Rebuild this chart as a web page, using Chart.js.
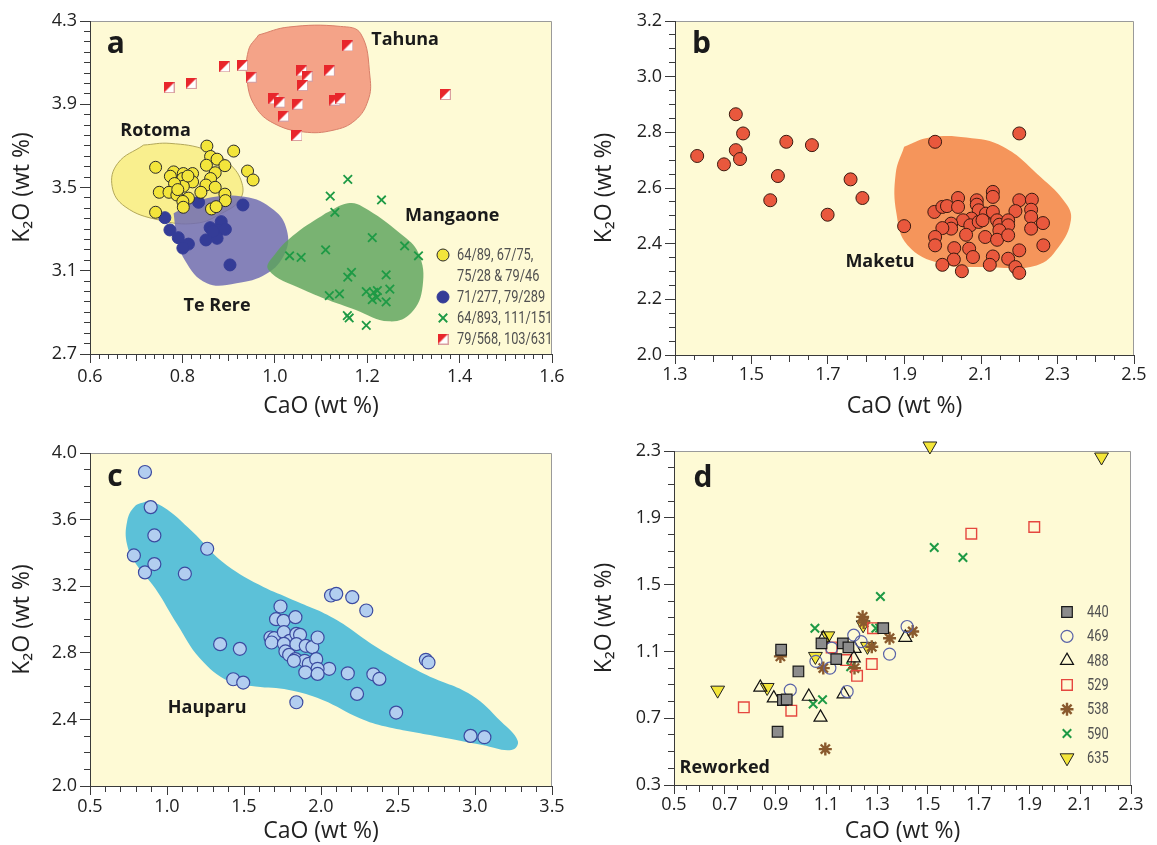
<!DOCTYPE html>
<html><head><meta charset="utf-8">
<script src="https://cdn.jsdelivr.net/npm/chart.js@4/dist/chart.umd.min.js"></script>
<style>
html,body{margin:0;padding:0;background:#fff;}
body{width:1157px;height:845px;position:relative;overflow:hidden;}
canvas{position:absolute;}
</style></head><body>
<canvas id="cA" width="580" height="420" style="left:0;top:0;width:580px;height:420px"></canvas>
<canvas id="cB" width="577" height="420" style="left:580px;top:0;width:577px;height:420px"></canvas>
<canvas id="cC" width="580" height="425" style="left:0;top:420px;width:580px;height:425px"></canvas>
<canvas id="cD" width="577" height="425" style="left:580px;top:420px;width:577px;height:425px"></canvas>
<script>
// ---------------- DATA ----------------
// Panel a
const aXTicks = [0.6, 0.8, 1.0, 1.2, 1.4, 1.6];
const aYTicks = [2.7, 3.1, 3.5, 3.9, 4.3];
const rotomaPts = [[0.853,3.699],[0.911,3.675],[0.861,3.649],[0.875,3.636],[0.742,3.597],[0.892,3.605],[0.852,3.607],[0.941,3.579],[0.953,3.536],[0.781,3.575],[0.802,3.567],[0.822,3.567],[0.774,3.554],[0.801,3.543],[0.822,3.527],[0.871,3.571],[0.861,3.543],[0.802,3.506],[0.783,3.519],[0.851,3.512],[0.871,3.501],[0.750,3.477],[0.771,3.477],[0.788,3.464],[0.840,3.477],[0.813,3.449],[0.801,3.433],[0.892,3.468],[0.893,3.437],[0.802,3.405],[0.863,3.397],[0.873,3.408],[0.742,3.381],[0.812,3.555],[0.790,3.490]];
const teRerePts = [[0.835,3.429],[0.931,3.416],[0.762,3.355],[0.773,3.296],[0.791,3.259],[0.813,3.228],[0.801,3.209],[0.851,3.248],[0.860,3.307],[0.884,3.336],[0.877,3.296],[0.893,3.299],[0.875,3.256],[0.903,3.128],[0.866,3.290]];
const mangaonePts = [[1.158,3.539],[1.120,3.459],[1.231,3.440],[1.130,3.381],[1.211,3.259],[1.281,3.219],[1.110,3.200],[1.311,3.172],[1.032,3.172],[1.057,3.164],[1.166,3.092],[1.158,3.069],[1.241,3.080],[1.118,2.980],[1.140,2.989],[1.198,3.000],[1.214,2.996],[1.222,3.004],[1.211,2.961],[1.221,2.972],[1.249,3.012],[1.241,2.950],[1.157,2.884],[1.161,2.873],[1.198,2.838]];
const tahunaPts = [[1.158,4.180],[0.891,4.080],[0.930,4.087],[0.771,3.980],[0.819,4.000],[0.949,4.030],[1.058,4.060],[1.070,4.035],[1.118,4.060],[1.060,3.990],[0.998,3.926],[1.011,3.910],[1.050,3.900],[1.130,3.920],[1.142,3.926],[1.019,3.843],[1.048,3.750],[1.369,3.947]];
const tahunaField = [[0.965,4.233],[1.030,4.271],[1.142,4.274],[1.186,4.239],[1.206,4.031],[1.202,3.919],[1.174,3.823],[1.126,3.775],[1.062,3.767],[0.998,3.808],[0.958,3.888],[0.940,4.015],[0.943,4.159]];
const rotomaField = [[0.716,3.704],[0.773,3.712],[0.853,3.680],[0.901,3.616],[0.929,3.520],[0.924,3.440],[0.885,3.376],[0.829,3.328],[0.749,3.344],[0.676,3.408],[0.648,3.504],[0.660,3.616]];
const teRereField = [[0.781,3.376],[0.837,3.440],[0.934,3.456],[0.998,3.392],[1.026,3.296],[1.022,3.184],[0.982,3.085],[0.917,3.040],[0.853,3.040],[0.805,3.152],[0.787,3.280]];
const mangaoneField = [[1.110,3.376],[1.158,3.424],[1.190,3.408],[1.271,3.280],[1.311,3.184],[1.320,3.025],[1.295,2.897],[1.247,2.857],[1.174,2.913],[1.062,3.009],[0.986,3.105],[1.002,3.184],[1.046,3.280]];
const aLegend = ['64/89, 67/75,|75/28 & 79/46', '71/277, 79/289', '64/893, 111/151', '79/568, 103/631'];

// Panel b
const bXTicks = [1.3, 1.5, 1.7, 1.9, 2.1, 2.3, 2.5];
const bYTicks = [2.0, 2.2, 2.4, 2.6, 2.8, 3.0, 3.2];
const maketuPts = [[1.358,2.715],[1.428,2.685],[1.459,2.865],[1.459,2.736],[1.478,2.796],[1.470,2.704],[1.549,2.556],[1.569,2.643],[1.591,2.766],[1.658,2.754],[1.699,2.504],[1.759,2.631],[1.790,2.564],[1.899,2.463],[1.980,2.766],[2.200,2.796],
 [1.978,2.514],[1.999,2.532],[2.011,2.535],[2.040,2.564],[2.040,2.532],[2.089,2.556],[2.089,2.540],[2.131,2.586],[2.131,2.568],[2.200,2.556],[2.233,2.558],[2.231,2.522],[2.190,2.517],[2.094,2.520],[2.113,2.508],[2.131,2.514],[2.075,2.490],[2.053,2.484],[2.022,2.472],[2.022,2.454],[1.999,2.456],[2.072,2.466],[2.094,2.478],[2.104,2.484],[2.142,2.484],[2.148,2.468],[2.171,2.484],[2.171,2.466],[2.148,2.448],[2.231,2.496],[2.231,2.454],[2.262,2.474],[1.980,2.424],[1.980,2.394],[2.061,2.432],[2.111,2.424],[2.142,2.414],[2.171,2.430],[2.030,2.384],[2.069,2.382],[2.029,2.343],[2.079,2.352],[2.131,2.354],[2.171,2.346],[2.200,2.376],[2.263,2.394],[1.999,2.324],[2.123,2.324],[2.050,2.301],[2.190,2.316],[2.200,2.295]];
const maketuField = [[1.899,2.748],[1.966,2.781],[2.062,2.781],[2.158,2.748],[2.255,2.640],[2.322,2.544],[2.335,2.484],[2.303,2.388],[2.245,2.322],[2.110,2.316],[1.995,2.328],[1.908,2.394],[1.879,2.508],[1.877,2.652]];

// Panel c
const cXTicks = [0.5, 1.0, 1.5, 2.0, 2.5, 3.0, 3.5];
const cYTicks = [2.0, 2.4, 2.8, 3.2, 3.6, 4.0];
const hauparuPts = [[0.857,3.886],[0.894,3.675],[0.918,3.505],[0.785,3.385],[0.857,3.283],[0.918,3.333],[1.116,3.275],[1.261,3.425],[1.345,2.852],[1.473,2.824],[1.430,2.641],[1.495,2.621],[1.840,2.503],[2.065,3.144],[2.099,3.154],[2.203,3.134],[2.294,3.054],[2.053,2.704],[2.174,2.677],[2.340,2.671],[2.379,2.643],[2.234,2.553],[2.488,2.441],[2.681,2.758],[2.698,2.742],[2.971,2.301],[3.061,2.293],
 [1.737,3.078],[1.708,3.002],[1.757,2.992],[1.834,3.014],[1.672,2.892],[1.696,2.888],[1.679,2.862],[1.759,2.924],[1.797,2.872],[1.840,2.914],[1.864,2.908],[1.759,2.854],[1.840,2.852],[1.901,2.842],[1.944,2.834],[1.978,2.892],[1.769,2.808],[1.793,2.788],[1.834,2.762],[1.894,2.752],[1.921,2.734],[1.969,2.762],[1.978,2.704],[1.898,2.683],[1.978,2.673],[1.824,2.752]];
const hauparuField = [[0.862,3.709],[0.971,3.679],[1.164,3.529],[1.357,3.349],[1.599,3.208],[1.792,3.128],[2.082,3.008],[2.372,2.828],[2.686,2.667],[2.976,2.547],[3.169,2.387],[3.278,2.270],[3.237,2.216],[3.048,2.246],[2.758,2.297],[2.420,2.357],[2.252,2.407],[2.010,2.517],[1.792,2.577],[1.575,2.597],[1.406,2.627],[1.213,2.768],[1.068,2.968],[0.923,3.188],[0.802,3.329],[0.741,3.449],[0.741,3.589],[0.790,3.679]];

// Panel d
const dXTicks = [0.5, 0.7, 0.9, 1.1, 1.3, 1.5, 1.7, 1.9, 2.1, 2.3];
const dYTicks = [0.3, 0.7, 1.1, 1.5, 1.9, 2.3];
const dLabels = ['440', '469', '488', '529', '538', '590', '635'];
const s440 = [[0.922,1.110],[0.990,0.980],[0.929,0.809],[0.908,0.619],[1.081,1.148],[1.139,1.054],[1.165,1.148],[1.187,1.124],[1.324,1.239],[0.944,0.812]];
const s469 = [[0.958,0.868],[1.059,1.040],[1.114,1.000],[1.121,1.120],[1.208,1.197],[1.237,1.159],[1.182,0.860],[1.349,1.084],[1.418,1.249]];
const s488 = [[0.840,0.884],[0.893,0.820],[1.031,0.830],[1.077,0.705],[1.088,1.179],[1.168,0.844],[1.211,1.117],[1.208,1.060],[1.411,1.183]];
const s529 = [[0.775,0.765],[0.962,0.745],[1.121,1.124],[1.178,1.048],[1.221,0.954],[1.279,1.024],[1.284,1.239],[1.671,1.805],[1.919,1.845]];
const s538 = [[0.919,1.070],[1.088,1.000],[1.096,0.515],[1.211,1.000],[1.243,1.307],[1.247,1.273],[1.279,1.128],[1.349,1.179],[1.440,1.219]];
const s590 = [[1.055,1.239],[1.048,0.785],[1.085,0.811],[1.196,1.008],[1.295,1.239],[1.313,1.429],[1.525,1.722],[1.638,1.662],[1.310,1.240]];
const s635 = [[0.672,0.868],[0.867,0.884],[1.057,1.070],[1.106,1.193],[1.245,1.259],[1.262,1.130],[1.508,2.330],[2.184,2.264]];

// ---------------- STYLE / HELPERS ----------------
const FONT = '"Open Sans", "Noto Sans", sans-serif';
const NARROW = 'Roboto, "Noto Sans", sans-serif';
const PLOT_BG = '#FEFAD5';
const AXIS_COL = '#3a3a3a';

function splitSquare(size) {
  const c = document.createElement('canvas'); c.width = size; c.height = size;
  const g = c.getContext('2d');
  g.fillStyle = '#ffffff'; g.fillRect(0, 0, size, size);
  g.strokeStyle = '#d9a0a0'; g.lineWidth = 1; g.strokeRect(0.5, 0.5, size - 1, size - 1);
  g.fillStyle = '#E8262B';
  g.beginPath(); g.moveTo(0, 0); g.lineTo(size, 0); g.lineTo(0, size); g.closePath(); g.fill();
  return c;
}
const halfRed = splitSquare(11);

const mk = arr => arr.map(p => ({x: p[0], y: p[1]}));
function field(arr, bg, border, bw, order) {
  return {type: 'line', data: mk(arr.concat([arr[0]])), fill: 'shape', tension: 0.42, pointRadius: 0,
    backgroundColor: bg, borderColor: border || 'rgba(0,0,0,0)', borderWidth: bw || 0, order: order};
}
function series(label, arr, st) {
  return Object.assign({type: 'scatter', label: label, data: mk(arr), order: 0}, st);
}

function axis(o) {
  const vals = [];
  const n = Math.round((o.max - o.min) / o.minor);
  for (let i = 0; i <= n; i++) vals.push(+(o.min + i * o.minor).toFixed(5));
  const near = (a, b) => Math.abs(a - b) < 1e-6;
  const isMajor = v => o.ticks.some(t => near(t, v));
  const isMid = v => o.mid ? near(v / o.mid, Math.round(v / o.mid)) : false;
  const horiz = o.pos === 'bottom';
  return {
    type: 'linear', position: o.pos, min: o.min, max: o.max,
    afterBuildTicks: s => { s.ticks = vals.map(v => ({value: v})); },
    afterFit: s => {
      if (horiz) s.height = o.size; else s.width = o.size;
      s.paddingLeft = 0; s.paddingRight = 0; s.paddingTop = 0; s.paddingBottom = 0;
    },
    grid: {
      drawOnChartArea: false, drawTicks: true, tickLength: o.tl, tickColor: AXIS_COL, tickWidth: 1,
      tickBorderDash: ctx => {
        const v = ctx.tick ? ctx.tick.value : null;
        if (v === null || isMajor(v)) return [];
        const len = isMid(v) ? o.tlMid : o.tlMinor;
        return horiz ? [len, 100] : [0, o.tl - len, len, 100];
      }
    },
    border: {display: true, color: AXIS_COL, width: 1},
    ticks: {autoSkip: false, maxRotation: 0, padding: o.pad, color: '#222', font: {family: FONT, size: 18},
      callback: v => isMajor(v) ? v.toFixed(1) : ''},
    title: {display: true, text: o.title, color: '#222', font: {family: FONT, size: 23}, padding: o.titlePad}
  };
}

function drawMarker(ctx, ds, x, y) {
  ctx.save();
  ctx.fillStyle = ds.pointBackgroundColor || 'rgba(0,0,0,0)';
  ctx.strokeStyle = ds.pointBorderColor || '#000';
  ctx.lineWidth = ds.pointBorderWidth || 1;
  const opts = {pointStyle: ds.pointStyle, radius: ds.pointRadius, rotation: ds.pointRotation || 0, borderWidth: ds.pointBorderWidth || 1};
  if (typeof ds.pointStyle === 'object') {
    ctx.drawImage(ds.pointStyle, x - ds.pointStyle.width / 2, y - ds.pointStyle.height / 2);
  } else if (Chart.helpers && Chart.helpers.drawPoint) {
    Chart.helpers.drawPoint(ctx, opts, x, y);
  } else {
    ctx.beginPath(); ctx.arc(x, y, ds.pointRadius, 0, Math.PI * 2); ctx.fill(); ctx.stroke();
  }
  ctx.restore();
}

function decor(cfg) {
  return {
    id: 'decor',
    beforeDraw(chart) {
      const ctx = chart.ctx, a = chart.chartArea;
      ctx.save();
      ctx.fillStyle = PLOT_BG;
      ctx.fillRect(a.left, a.top, a.right - a.left, a.bottom - a.top);
      ctx.strokeStyle = '#9a9a9a'; ctx.lineWidth = 1;
      ctx.beginPath();
      ctx.moveTo(a.left, a.top + 0.5); ctx.lineTo(a.right - 0.5, a.top + 0.5); ctx.lineTo(a.right - 0.5, a.bottom);
      ctx.stroke();
      ctx.restore();
    },
    afterDraw(chart) {
      const ctx = chart.ctx, xs = chart.scales.x, ys = chart.scales.y;
      ctx.save();
      ctx.textAlign = 'center'; ctx.textBaseline = 'middle';
      (cfg.labels || []).forEach(l => {
        ctx.font = l.font; ctx.fillStyle = '#1a1a1a';
        ctx.fillText(l.text, xs.getPixelForValue(l.x), ys.getPixelForValue(l.y));
      });
      if (cfg.legend) {
        const L = cfg.legend;
        let y = L.y;
        L.items.forEach(it => {
          const ds = chart.data.datasets[it.ds];
          drawMarker(ctx, ds, L.mx, y);
          const lines = it.text.split('|');
          lines.forEach((t, k) => {
            ctx.save();
            ctx.font = L.font; ctx.fillStyle = '#505050'; ctx.textAlign = 'left'; ctx.textBaseline = 'middle';
            ctx.translate(L.tx, y + 1 + k * L.lh);
            ctx.scale(L.sx, 1);
            ctx.fillText(t, 0, 0);
            ctx.restore();
          });
          y += lines.length * L.lh;
        });
      }
      ctx.restore();
    }
  };
}

function makeChart(id, cfg) {
  return new Chart(document.getElementById(id), {
    type: 'scatter',
    data: {datasets: cfg.datasets},
    options: {
      responsive: false, animation: false, events: [],
      layout: {padding: cfg.padding},
      plugins: {legend: {display: false}, tooltip: {enabled: false}},
      scales: {x: axis(cfg.x), y: axis(cfg.y)}
    },
    plugins: [decor(cfg)]
  });
}

const XT = 'CaO (wt %)', YT = 'K\u2082O (wt %)';
const LBL = 'bold 18px ' + FONT, LET = 'bold 30px ' + FONT;

// ---------------- PANEL A ----------------
makeChart('cA', {
  padding: {top: 21, right: 28, left: 0, bottom: 0},
  x: {pos: 'bottom', min: 0.6, max: 1.6, ticks: aXTicks, mid: 0.1, minor: 0.02, size: 66, tl: 9, tlMid: 6, tlMinor: 4, pad: 3, title: XT, titlePad: {top: 0, bottom: 0}},
  y: {pos: 'left', min: 2.7, max: 4.3, ticks: aYTicks, mid: 0.2, minor: 0.05, size: 90, tl: 10, tlMid: 6, tlMinor: 6, pad: 3, title: YT, titlePad: {top: 9, bottom: 0}},
  datasets: [
    series(aLegend[0], rotomaPts, {pointStyle: 'circle', pointRadius: 6, pointBackgroundColor: '#F3E53B', pointBorderColor: '#2a2a2a', pointBorderWidth: 1}),
    series(aLegend[1], teRerePts, {pointStyle: 'circle', pointRadius: 6, pointBackgroundColor: '#343C97', pointBorderColor: '#343C97', pointBorderWidth: 1}),
    series(aLegend[2], mangaonePts, {pointStyle: 'crossRot', pointRadius: 6, pointBackgroundColor: '#1E9A45', pointBorderColor: '#1E9A45', pointBorderWidth: 1.8}),
    series(aLegend[3], tahunaPts, {pointStyle: halfRed, pointRadius: 6, pointBackgroundColor: '#E8262B', pointBorderColor: '#E8262B', pointBorderWidth: 1}),
    field(rotomaField, 'rgba(249,238,138,0.95)', '#B3A85A', 1, 14),
    field(teRereField, 'rgba(112,108,180,0.85)', null, 0, 13),
    field(mangaoneField, 'rgba(92,163,92,0.82)', null, 0, 12),
    field(tahunaField, 'rgba(243,150,125,0.88)', '#D8806A', 1, 11)
  ],
  labels: [
    {text: 'a', x: 0.656, y: 4.185, font: LET},
    {text: 'Tahuna', x: 1.282, y: 4.209, font: LBL},
    {text: 'Rotoma', x: 0.742, y: 3.774, font: LBL},
    {text: 'Mangaone', x: 1.384, y: 3.365, font: LBL},
    {text: 'Te Rere', x: 0.875, y: 2.930, font: LBL}
  ],
  legend: {mx: 443, tx: 457, y: 255, lh: 21, sx: 0.8, font: '16px ' + NARROW,
    items: [{ds: 0, text: aLegend[0]}, {ds: 1, text: aLegend[1]}, {ds: 2, text: aLegend[2]}, {ds: 3, text: aLegend[3]}]}
});

// ---------------- PANEL B ----------------
makeChart('cB', {
  padding: {top: 21, right: 23, left: 0, bottom: 0},
  x: {pos: 'bottom', min: 1.3, max: 2.5, ticks: bXTicks, mid: 0.1, minor: 0.05, size: 65, tl: 9, tlMid: 6, tlMinor: 4, pad: 0, title: XT, titlePad: {top: 0, bottom: 0}},
  y: {pos: 'left', min: 2.0, max: 3.2, ticks: bYTicks, mid: 0.1, minor: 0.05, size: 95, tl: 10, tlMid: 6, tlMinor: 6, pad: 3, title: YT, titlePad: {top: 11, bottom: 0}},
  datasets: [
    series('Maketu', maketuPts, {pointStyle: 'circle', pointRadius: 6.5, pointBackgroundColor: '#E9583D', pointBorderColor: '#3b1a10', pointBorderWidth: 1}),
    field(maketuField, '#F5955B', null, 0, 10)
  ],
  labels: [
    {text: 'b', x: 1.369, y: 3.114, font: LET},
    {text: 'Maketu', x: 1.836, y: 2.334, font: LBL}
  ]
});

// ---------------- PANEL C ----------------
makeChart('cC', {
  padding: {top: 33, right: 28, left: 0, bottom: 0},
  x: {pos: 'bottom', min: 0.5, max: 3.5, ticks: cXTicks, mid: null, minor: 0.1, size: 59, tl: 9, tlMid: 5, tlMinor: 5, pad: 1, title: XT, titlePad: {top: 0, bottom: 0}},
  y: {pos: 'left', min: 2.0, max: 4.0, ticks: cYTicks, mid: null, minor: 0.1, size: 90, tl: 10, tlMid: 6, tlMinor: 6, pad: 3, title: YT, titlePad: {top: 9, bottom: 0}},
  datasets: [
    series('Hauparu', hauparuPts, {pointStyle: 'circle', pointRadius: 6.5, pointBackgroundColor: '#B2CEF0', pointBorderColor: '#3B4AA0', pointBorderWidth: 1.2}),
    field(hauparuField, '#5CC1D8', null, 0, 10)
  ],
  labels: [
    {text: 'c', x: 0.662, y: 3.855, font: LET},
    {text: 'Hauparu', x: 1.261, y: 2.467, font: LBL}
  ]
});

// ---------------- PANEL D ----------------
makeChart('cD', {
  padding: {top: 31, right: 26, left: 0, bottom: 0},
  x: {pos: 'bottom', min: 0.5, max: 2.3, ticks: dXTicks, mid: 0.1, minor: 0.05, size: 60, tl: 9, tlMid: 6, tlMinor: 4, pad: 0, title: XT, titlePad: {top: 0, bottom: 0}},
  y: {pos: 'left', min: 0.3, max: 2.3, ticks: dYTicks, mid: null, minor: 0.1, size: 94, tl: 10, tlMid: 6, tlMinor: 6, pad: 3, title: YT, titlePad: {top: 11, bottom: 0}},
  datasets: [
    series(dLabels[0], s440, {pointStyle: 'rect', pointRadius: 7.5, pointBackgroundColor: '#8C8C8C', pointBorderColor: '#1a1a1a', pointBorderWidth: 1.2}),
    series(dLabels[1], s469, {pointStyle: 'circle', pointRadius: 6, pointBackgroundColor: 'rgba(255,255,255,0)', pointBorderColor: '#5A63A8', pointBorderWidth: 1.2}),
    series(dLabels[2], s488, {pointStyle: 'triangle', pointRadius: 7.5, pointBackgroundColor: 'rgba(255,255,255,0)', pointBorderColor: '#111', pointBorderWidth: 1.2}),
    series(dLabels[3], s529, {pointStyle: 'rect', pointRadius: 7.5, pointBackgroundColor: 'rgba(255,255,255,0)', pointBorderColor: '#E5473F', pointBorderWidth: 1.4}),
    series(dLabels[4], s538, {pointStyle: 'star', pointRadius: 6.5, pointBackgroundColor: '#8A5A2E', pointBorderColor: '#8A5A2E', pointBorderWidth: 2.4}),
    series(dLabels[5], s590, {pointStyle: 'crossRot', pointRadius: 6, pointBackgroundColor: '#1E9A45', pointBorderColor: '#1E9A45', pointBorderWidth: 2}),
    Object.assign(series(dLabels[6], s635, {pointStyle: 'triangle', pointRotation: 180, pointRadius: 8, pointBackgroundColor: '#F4E63A', pointBorderColor: '#222', pointBorderWidth: 1}), {clip: false})
  ],
  labels: [
    {text: 'd', x: 0.614, y: 2.138, font: LET},
    {text: 'Reworked', x: 0.700, y: 0.402, font: LBL}
  ],
  legend: {mx: 487, tx: 507, y: 192, lh: 24.3, sx: 0.8, font: '16px ' + NARROW,
    items: dLabels.map((t, i) => ({ds: i, text: t}))}
});
</script>
</body></html>
